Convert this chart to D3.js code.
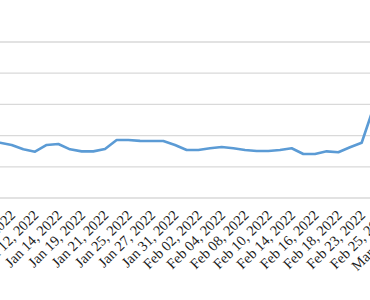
<!DOCTYPE html>
<html>
<head>
<meta charset="utf-8">
<script src="https://cdn.jsdelivr.net/npm/d3@7"></script>
<style>
  html, body { margin: 0; padding: 0; background: #fff; overflow: hidden; }
  svg { display: block; }
</style>
</head>
<body>
<svg id="chart" width="370" height="300"></svg>
<script>
// trading days shown on the category axis
var categories = [
  'Jan 07, 2022', 'Jan 10, 2022', 'Jan 11, 2022', 'Jan 12, 2022', 'Jan 13, 2022',
  'Jan 14, 2022', 'Jan 18, 2022', 'Jan 19, 2022', 'Jan 20, 2022', 'Jan 21, 2022',
  'Jan 24, 2022', 'Jan 25, 2022', 'Jan 26, 2022', 'Jan 27, 2022', 'Jan 28, 2022',
  'Jan 31, 2022', 'Feb 01, 2022', 'Feb 02, 2022', 'Feb 03, 2022', 'Feb 04, 2022',
  'Feb 07, 2022', 'Feb 08, 2022', 'Feb 09, 2022', 'Feb 10, 2022', 'Feb 11, 2022',
  'Feb 14, 2022', 'Feb 15, 2022', 'Feb 16, 2022', 'Feb 17, 2022', 'Feb 18, 2022',
  'Feb 22, 2022', 'Feb 23, 2022', 'Feb 24, 2022', 'Feb 25, 2022', 'Feb 28, 2022',
  'Mar 01, 2022'
]
// series values (arbitrary units)
var values = [
  35.4, 34.0, 31.2, 29.7, 34.0, 34.6, 31.2, 29.9, 29.9, 31.4,
  37.2, 37.2, 36.6, 36.5, 36.5, 34.0, 30.8, 30.8, 31.9, 32.7,
  31.9, 30.8, 30.1, 30.1, 30.8, 31.9, 28.2, 28.2, 29.9, 29.3,
  32.5, 35.4, 57.6
]
// every other day gets a label
var tickLabels = categories.filter(function (d, i) { return i % 2 === 1 })
var gridValues = [0, 20, 40, 60, 80, 100]

var svg = d3.select('#chart')
var step = 11.667

// x & y scales
var x = d3.scalePoint().domain(categories).range([0, step * (categories.length - 1)])
var y = d3.scaleLinear().domain([0, 100]).range([198, 42])

// horizontal gridlines
svg.append('g')
  .selectAll('line')
  .data(gridValues)
  .enter().append('line')
    .attr('x1', -20)
    .attr('x2', 400)
    .attr('y1', (d) => y(d))
    .attr('y2', (d) => y(d))
    .attr('stroke', '#d9d9d9')
    .attr('stroke-width', 1.3)

// category axis, rotated labels
var xAxis = d3.axisBottom(x).tickValues(tickLabels).tickSize(0).tickPadding(0)
var gx = svg.append('g')
  .attr('transform', 'translate(0,' + y(0) + ')')
  .call(xAxis)
gx.select('.domain').remove()
gx.selectAll('text')
  .attr('font-family', '"Liberation Serif", "Times New Roman", serif')
  .attr('font-size', 14.5)
  .attr('fill', '#1a1a1a')
  .attr('text-anchor', 'end')
  .attr('dy', 0)
  .attr('y', 0)
  .attr('transform', 'translate(4,18) rotate(-45)')

// the series line
var line = d3.line()
  .x((d, i) => x(categories[i]))
  .y((d) => y(d))

svg.append('path').datum(values)
  .attr('fill', 'none')
  .attr('stroke', '#5b9bd5')
  .attr('stroke-width', 2.6)
  .attr('stroke-linejoin', 'round')
  .attr('stroke-linecap', 'round')
  .attr('d', line)
</script>
</body>
</html>
